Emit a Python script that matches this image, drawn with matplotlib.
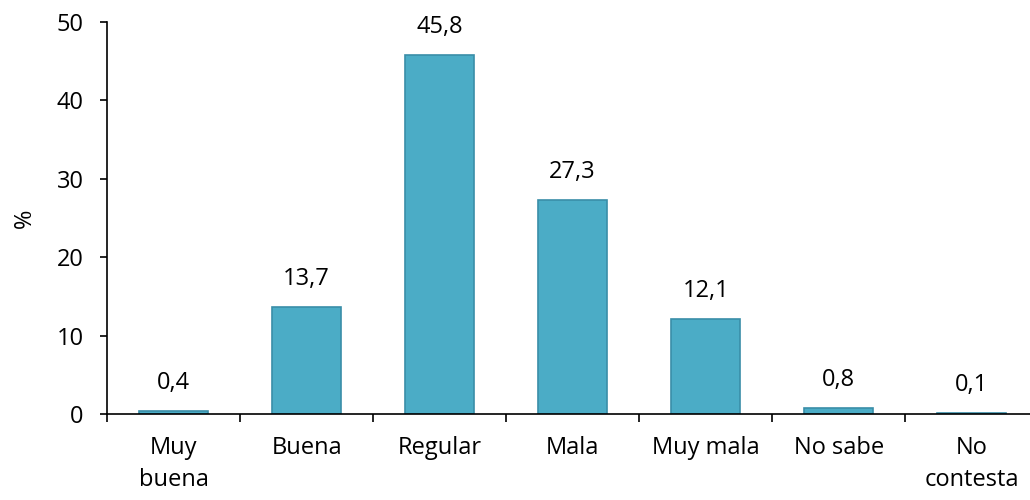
import numpy as np
import matplotlib.pyplot as plt

# categories and values (%)
categories = ['Muy\nbuena', 'Buena', 'Regular', 'Mala', 'Muy mala', 'No sabe', 'No\ncontesta']
values = [0.4, 13.7, 45.8, 27.3, 12.1, 0.8, 0.1]
labels = ['0,4', '13,7', '45,8', '27,3', '12,1', '0,8', '0,1']

plt.rcParams['font.family'] = ['Open Sans', 'DejaVu Sans']

fig = plt.figure(figsize=(10.3, 5), dpi=100)
# plot area runs slightly past the right edge, as in the original
ax = fig.add_axes([0.104, 0.172, 0.904, 0.784])

x = np.arange(len(categories))
ax.bar(x, values, width=0.52, color='#4BACC6', edgecolor='#3A8EA8', linewidth=1.2)

for xi, v, lab in zip(x, values, labels):
    ax.text(xi, v + 2.8, lab, ha='center', va='baseline', fontsize=17)

ax.set_xlim(-0.5, 6.5)
ax.set_ylim(0, 50)
ax.set_yticks([0, 10, 20, 30, 40, 50])
ax.tick_params(axis='y', labelsize=17, direction='out', length=5, width=1.2, pad=12)

# boundary ticks, labels at centers
ax.set_xticks(np.arange(-0.5, 6.0, 1.0))
ax.set_xticklabels([])
ax.tick_params(axis='x', which='major', direction='out', length=6, width=1.2)
ax.set_xticks(x, minor=True)
ax.set_xticklabels(categories, minor=True, fontsize=17, linespacing=1.45)
ax.tick_params(axis='x', which='minor', length=0, pad=16)

ax.set_ylabel('%', fontsize=17, labelpad=14)
ax.spines['top'].set_visible(False)
ax.spines['right'].set_visible(False)
ax.spines['left'].set_linewidth(1.2)
ax.spines['bottom'].set_linewidth(1.2)

fig.savefig('out.png', dpi=100)
